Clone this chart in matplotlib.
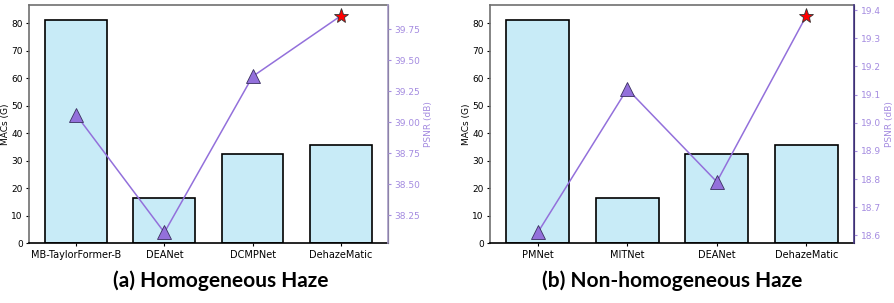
import matplotlib
matplotlib.use("Agg")
import matplotlib.pyplot as plt

# (a) homogeneous haze
models_a = ["MB-TaylorFormer-B", "DEANet", "DCMPNet", "DehazeMatic"]
macs_a = [81.2, 16.5, 32.4, 35.6]
psnr_a = [39.06, 38.11, 39.37, 39.86]

# (b) non-homogeneous haze
models_b = ["PMNet", "MITNet", "DEANet", "DehazeMatic"]
macs_b = [81.2, 16.5, 32.4, 35.6]
psnr_b = [18.61, 19.12, 18.79, 19.38]

captions = ["(a) Homogeneous Haze", "(b) Non-homogeneous Haze"]

BAR_FACE = "#c8ebf7"
LINE = "mediumpurple"
TICK_PURPLE = "#a48be0"

fig = plt.figure(figsize=(8.94, 3.03), dpi=100)
rects = [[0.0324, 0.197, 0.4016, 0.7865], [0.548, 0.197, 0.4075, 0.7865]]
right_spines = ["#a99dc9", "#4b3b8a"]


def panel(rect, models, macs, psnr, spine_r):
    ax = fig.add_axes(rect)
    x = list(range(len(models)))
    ax.bar(x, macs, width=0.7, color=BAR_FACE, edgecolor="black", linewidth=1.2)
    ax.set_ylim(0, 86.7)
    ax.set_xticks(x)
    ax.set_xticklabels(models, fontsize=7)
    ax.set_yticks(range(0, 81, 10))
    ax.tick_params(axis="y", labelsize=6.5, length=2.5, pad=2)
    ax.tick_params(axis="x", length=2.5, pad=2)
    ax.set_ylabel("MACs (G)", fontsize=6.5, labelpad=1)
    for side in ("top", "left"):
        ax.spines[side].set_color("#707070")
        ax.spines[side].set_linewidth(1.2)
    ax.spines["bottom"].set_linewidth(1.2)

    ax2 = ax.twinx()
    ax2.plot(x, psnr, color=LINE, linewidth=1.1, zorder=2)
    ax2.plot(x[:-1], psnr[:-1], linestyle="none", marker="^", markersize=10,
             markerfacecolor=LINE, markeredgecolor="#3a2f60", markeredgewidth=0.6,
             zorder=3)
    ax2.plot(x[-1:], psnr[-1:], linestyle="none", marker="*", markersize=11,
             markerfacecolor="red", markeredgecolor="#333333", markeredgewidth=0.6,
             zorder=3)
    ax2.set_ylabel("PSNR (dB)", fontsize=6.5, color=TICK_PURPLE, labelpad=3)
    ax2.tick_params(axis="y", labelsize=6.5, colors=TICK_PURPLE, length=2.5, pad=2)
    ax2.spines["right"].set_color(spine_r)
    ax2.spines["right"].set_linewidth(1.2)
    for side in ("top", "left", "bottom"):
        ax2.spines[side].set_visible(False)
    return ax, ax2


ax_a, ax2_a = panel(rects[0], models_a, macs_a, psnr_a, right_spines[0])
ax2_a.set_yticks([38.25, 38.50, 38.75, 39.00, 39.25, 39.50, 39.75])
ax2_a.set_yticklabels(["38.25", "38.50", "38.75", "39.00", "39.25", "39.50", "39.75"])

ax_b, ax2_b = panel(rects[1], models_b, macs_b, psnr_b, right_spines[1])
ax2_b.set_yticks([18.6, 18.7, 18.8, 18.9, 19.0, 19.1, 19.2, 19.3, 19.4])

fig.text(0.247, 0.075, captions[0], ha="center", va="center", fontsize=15,
         fontweight="bold", family=["Lato", "DejaVu Sans"])
fig.text(0.752, 0.075, captions[1], ha="center", va="center", fontsize=15,
         fontweight="bold", family=["Lato", "DejaVu Sans"])

fig.savefig("out.png", dpi=100)
